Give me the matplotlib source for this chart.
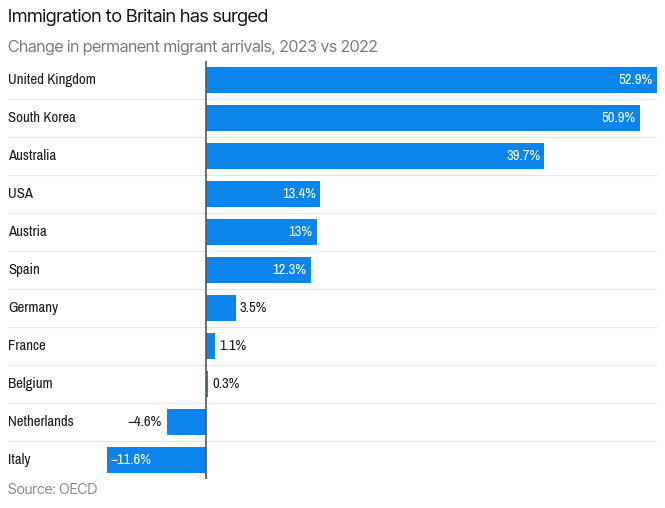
import matplotlib.pyplot as plt

countries = ["United Kingdom", "South Korea", "Australia", "USA", "Austria", "Spain",
             "Germany", "France", "Belgium", "Netherlands", "Italy"]
values = [52.9, 50.9, 39.7, 13.4, 13, 12.3, 3.5, 1.1, 0.3, -4.6, -11.6]
labels = ["52.9%", "50.9%", "39.7%", "13.4%", "13%", "12.3%", "3.5%", "1.1%", "0.3%",
          "−4.6%", "−11.6%"]

BLUE = "#0b84ec"
NARROW = ["Archivo Narrow", "DejaVu Sans"]
HEAD = ["Inter Tight", "DejaVu Sans"]

fig = plt.figure(figsize=(6.65, 5.08), dpi=100)
ax = fig.add_axes([8 / 665, 29 / 508, 649 / 665, 418 / 508])

y = list(range(len(countries)))
ax.barh(y, values, height=0.71, color=BLUE, zorder=2)
ax.set_xlim(-23.2, 52.9)
ax.set_ylim(len(countries) - 0.5, -0.5)
ax.axis("off")

# ligne du zéro
ax.axvline(0, color="#555555", lw=1.2, zorder=3)

# séparateurs entre les lignes
for i in range(len(countries) - 1):
    ax.axhline(i + 0.5, color="#e6e6e6", lw=0.8, zorder=1)

for i, (c, v, lab) in enumerate(zip(countries, values, labels)):
    ax.text(0, i, c, transform=ax.get_yaxis_transform(), ha="left", va="center",
            fontsize=10.7, color="#1a1a1a", family=NARROW)
    if v >= 10:
        ax.text(v - 0.5, i, lab, ha="right", va="center", fontsize=10.5,
                color="white", family=NARROW, zorder=4)
    elif v >= 0:
        ax.text(v + 0.5, i, lab, ha="left", va="center", fontsize=10.5,
                color="#1a1a1a", family=NARROW, zorder=4)
    elif v > -10:
        ax.text(v - 0.6, i, lab, ha="right", va="center", fontsize=10.5,
                color="#1a1a1a", family=NARROW, zorder=4)
    else:
        ax.text(v + 0.4, i, lab, ha="left", va="center", fontsize=10.5,
                color="white", family=NARROW, zorder=4)

fig.text(8 / 665, 1 - 17 / 508, "Immigration to Britain has surged", ha="left", va="center",
         fontsize=13.3, color="#111111", family=HEAD)
fig.text(8 / 665, 1 - 47 / 508, "Change in permanent migrant arrivals, 2023 vs 2022",
         ha="left", va="center", fontsize=11.75, color="#777777", family=HEAD)
fig.text(8 / 665, 1 - 490 / 508, "Source: OECD", ha="left", va="center",
         fontsize=10.5, color="#888888", family=HEAD)

plt.savefig("out.png", dpi=100)
